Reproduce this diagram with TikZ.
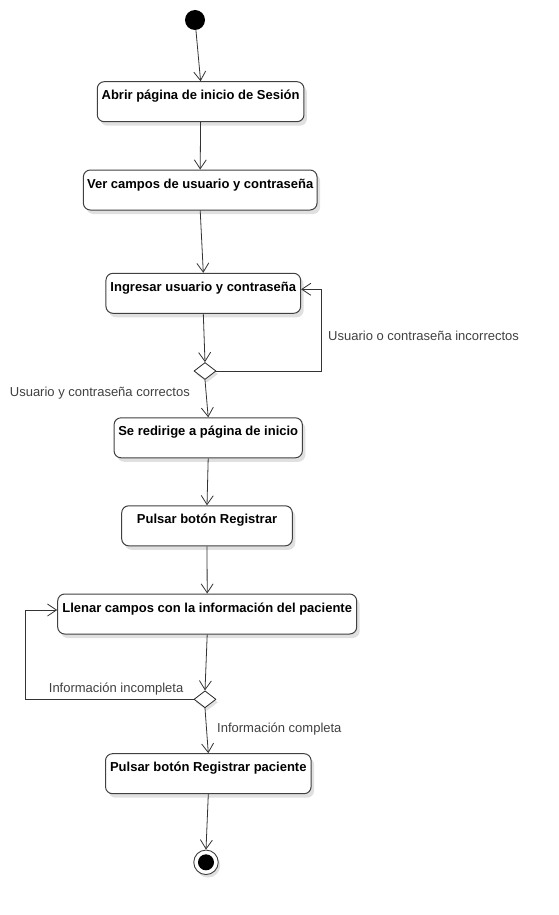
\documentclass[tikz,border=0pt]{standalone}
\usepackage{fontspec}
\setmainfont{Liberation Sans}
\usetikzlibrary{arrows.meta,shapes.geometric,shadows}

\tikzset{
  act/.style={draw=black!75,line width=1pt,rounded corners=7pt,fill=white,
    font=\fontsize{13}{15}\selectfont\bfseries,inner xsep=1pt,inner ysep=0pt,
    text height=18pt,text depth=22pt,
    drop shadow={shadow xshift=3pt,shadow yshift=-4pt,opacity=.12,fill=black}},
  choice/.style={diamond,draw=black!85,line width=.8pt,fill=white,inner sep=0pt,
    minimum width=22pt,minimum height=17pt,
    drop shadow={shadow xshift=2pt,shadow yshift=-3pt,opacity=.12,fill=black}},
  flow/.style={draw=black!80,line width=.8pt,-{Straight Barb[length=9pt,width=12pt]}},
  guard/.style={text=black!75,font=\fontsize{13}{15}\selectfont,inner sep=0pt}
}

\begin{document}
\begin{tikzpicture}[x=1pt,y=-1pt]
\useasboundingbox (0,0) rectangle (558,915);

% initial and final states
\node[circle,fill=black,minimum size=20pt,inner sep=0pt] (start) at (195,20) {};
\node[circle,draw=black!75,line width=.9pt,fill=white,minimum size=24.5pt,inner sep=0pt,
  drop shadow={shadow xshift=2pt,shadow yshift=-3pt,opacity=.12,fill=black},
  path picture={\fill[black] (path picture bounding box.center) circle (8pt);}] (stop) at (206,862.3) {};

% activities
\node[act,minimum width=206.7pt] (abrir) at (200.6,101.7) {Abrir página de inicio de Sesión};
\node[act,minimum width=233.7pt] (ver) at (200.2,190) {Ver campos de usuario y contraseña};
\node[act,minimum width=194.7pt] (ingresar) at (203.3,293.3) {Ingresar usuario y contraseña};
\node[choice] (login) at (205,371) {};
\node[act,minimum width=188.3pt] (redirige) at (208.2,437.8) {Se redirige a página de inicio};
\node[act,minimum width=170.6pt] (registrar) at (207,525.8) {Pulsar botón Registrar};
\node[act,minimum width=299pt] (llenar) at (207.2,614) {Llenar campos con la información del paciente};
\node[choice] (datos) at (205,699.3) {};
\node[act,minimum width=205.6pt] (paciente) at (208.3,773.7) {Pulsar botón Registrar paciente};

% guards
\node[guard,anchor=west] (incorrectos) at (328,336) {Usuario o contraseña incorrectos};
\node[guard,anchor=east] (correctos) at (190,393) {Usuario y contraseña correctos};
\node[guard,anchor=east] (incompleta) at (183.5,689) {Información incompleta};
\node[guard,anchor=west] (completa) at (217,729) {Información completa};

% transitions
\draw[flow] (start) -- (abrir.north);
\draw[flow] (abrir.south) -- (ver.north);
\draw[flow] (ver.south) -- (ingresar.north);
\draw[flow] (ingresar.south) -- (login.north);
\draw[flow] (login.east) -- (321.7,371) |- ([yshift=4pt]ingresar.east);
\draw[flow] (login.south) -- (redirige.north);
\draw[flow] (redirige.south) -- (registrar.north);
\draw[flow] (registrar.south) -- (llenar.north);
\draw[flow] (llenar.south) -- (datos.north);
\draw[flow] (datos.west) -- (25.7,699.3) |- ([yshift=4pt]llenar.west);
\draw[flow] (datos.south) -- (paciente.north);
\draw[flow] (paciente.south) -- (stop.north);

\end{tikzpicture}
\end{document}
